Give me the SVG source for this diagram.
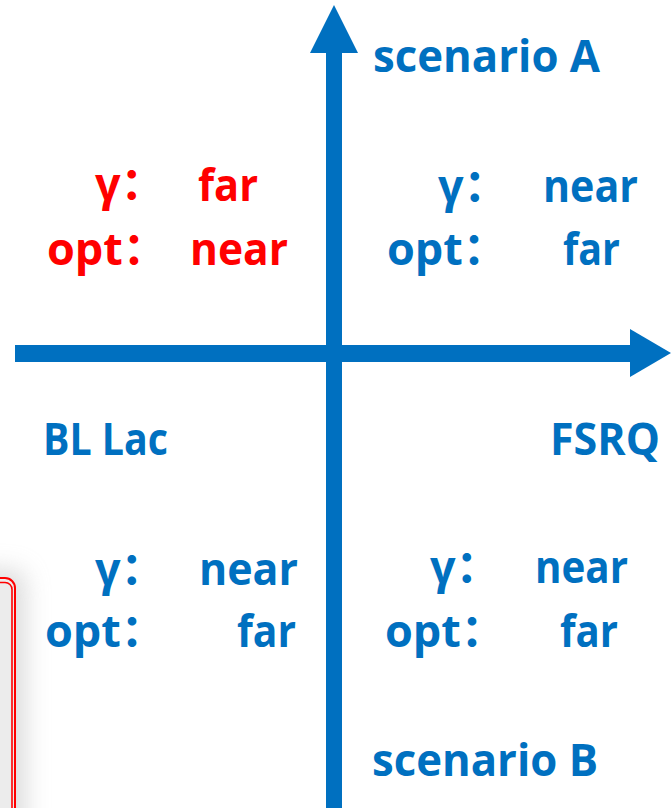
<svg xmlns="http://www.w3.org/2000/svg" width="671" height="808" viewBox="0 0 671 808">
<style>
text{font-family:'Open Sans','Noto Sans CJK SC',sans-serif;font-weight:bold;font-size:45px}
.b{fill:#0070C0}
.r{fill:#FF0000}
.ax{fill:#0070C0}
</style>
<defs>
<filter id="sh" x="-50%" y="-50%" width="200%" height="200%"><feGaussianBlur stdDeviation="12"/></filter>
</defs>
<rect width="671" height="808" fill="#fff"/>
<g id="box">
<rect x="-100" y="570" width="125" height="300" rx="12" fill="#bdbdbd" opacity="0.55" filter="url(#sh)"/>
<rect x="-40" y="578" width="55" height="260" rx="10" fill="#ececec" stroke="#FF0000" stroke-width="2"/>
<rect x="-40" y="582.5" width="52" height="260" rx="7" fill="none" stroke="#FF0000" stroke-width="1.6"/>
</g>
<g id="connectors">
<rect class="ax" x="326" y="50" width="16" height="758"/>
<polygon class="ax" points="310,53 334,5 358,53"/>
<rect class="ax" x="15" y="345" width="617" height="17"/>
<polygon class="ax" points="630,329 671,353 630,377"/>
</g>
<g id="scenarioA"><text class="b" x="373" y="72" textLength="227" lengthAdjust="spacingAndGlyphs">scenario A</text></g>
<g id="scenarioB"><text class="b" x="372" y="776" textLength="226" lengthAdjust="spacingAndGlyphs">scenario B</text></g>
<g id="bllac"><text class="b" x="43" y="455" textLength="125" lengthAdjust="spacingAndGlyphs">BL Lac</text></g>
<g id="fsrq"><text class="b" x="550" y="455" textLength="110" lengthAdjust="spacingAndGlyphs">FSRQ</text></g>
<g id="upperLeft">
<text class="r" x="95" y="200">γ：</text>
<text class="r" x="198" y="201" textLength="60" lengthAdjust="spacingAndGlyphs">far</text>
<text class="r" x="47" y="265">opt：</text>
<text class="r" x="190" y="265" textLength="98" lengthAdjust="spacingAndGlyphs">near</text>
</g>
<g id="upperRight">
<text class="b" x="438" y="202">γ：</text>
<text class="b" x="543" y="202" textLength="95" lengthAdjust="spacingAndGlyphs">near</text>
<text class="b" x="387" y="265">opt：</text>
<text class="b" x="563" y="265" textLength="57" lengthAdjust="spacingAndGlyphs">far</text>
</g>
<g id="lowerLeft">
<text class="b" x="95" y="585">γ：</text>
<text class="b" x="199" y="585" textLength="99" lengthAdjust="spacingAndGlyphs">near</text>
<text class="b" x="45" y="647">opt：</text>
<text class="b" x="237" y="647" textLength="59" lengthAdjust="spacingAndGlyphs">far</text>
</g>
<g id="lowerRight">
<text class="b" x="430" y="583">γ：</text>
<text class="b" x="535" y="583" textLength="93" lengthAdjust="spacingAndGlyphs">near</text>
<text class="b" x="385" y="647">opt：</text>
<text class="b" x="560" y="647" textLength="58" lengthAdjust="spacingAndGlyphs">far</text>
</g>
</svg>
